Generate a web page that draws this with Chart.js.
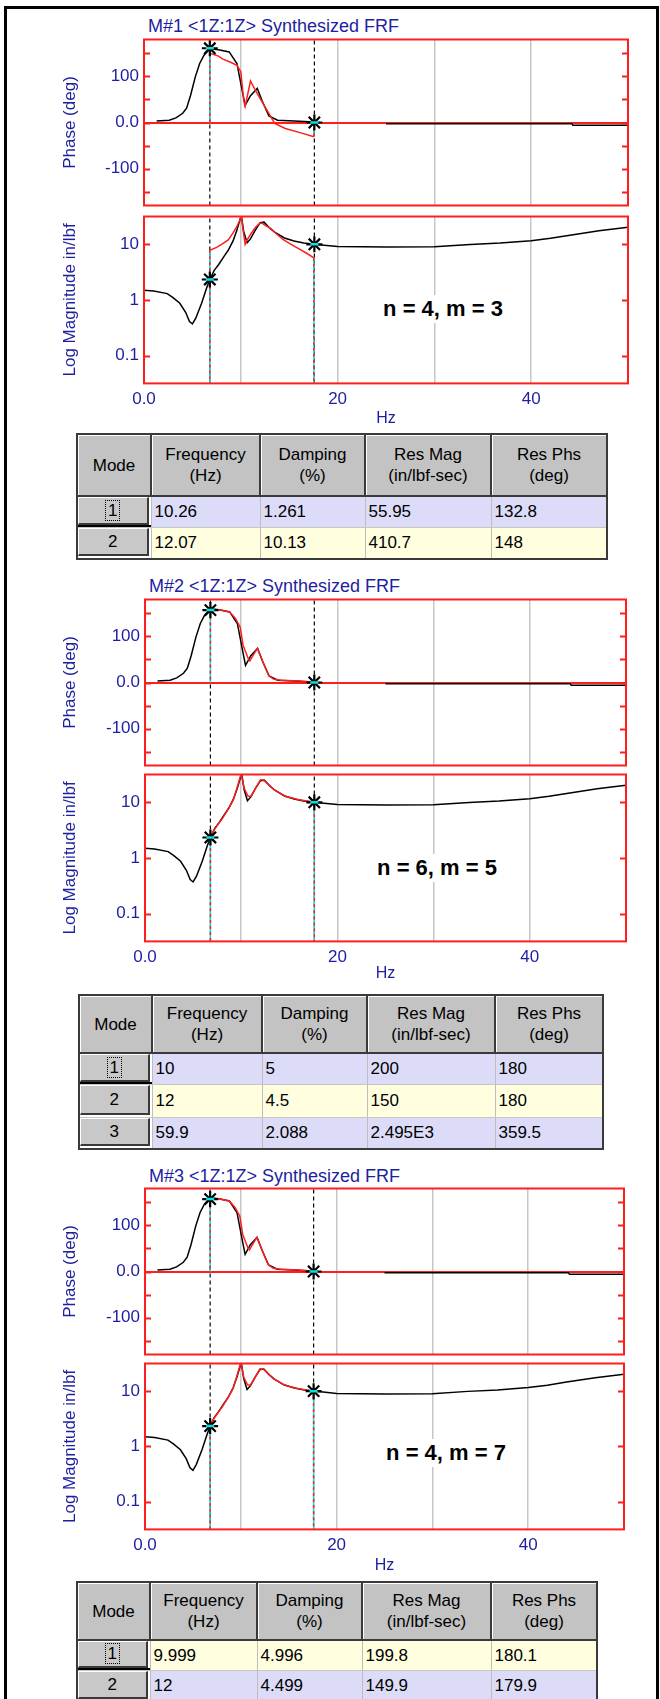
<!DOCTYPE html>
<html>
<head>
<meta charset="utf-8">
<script src="https://cdn.jsdelivr.net/npm/chart.js@4.4.1/dist/chart.umd.min.js"></script>
<style>
body{margin:0;width:660px;height:1699px;position:relative;overflow:hidden;background:#fff;font-family:"Liberation Sans",Arial,sans-serif;}
#frame{position:absolute;left:4px;top:6px;width:649px;height:1760px;border:3px solid #000;}
canvas{position:absolute;left:0;}
.title{position:absolute;color:#1e1ea0;font-size:18px;line-height:20px;white-space:nowrap;}
.note{position:absolute;background:#fff;color:#000;font-weight:bold;font-size:22px;line-height:28px;padding:0 5px;white-space:nowrap;transform:translateX(-50%);}
table.modes{position:absolute;border-collapse:collapse;table-layout:fixed;font-size:17px;color:#000;border:2px solid #3a3a3a;}
table.modes th{background:#c3c3c3;font-weight:normal;line-height:21px;border-right:2px solid #3a3a3a;border-bottom:2px solid #3a3a3a;box-shadow:inset 1px 1px 0 #fff;padding:0;text-align:center;}
table.modes td{padding:0 0 0 3px;border-right:1px solid #bdbdbd;border-bottom:1px solid #c6c6c6;white-space:nowrap;overflow:hidden;}
table.modes td.mode{padding:0 2px 2px 0;background:#fff;}
table.modes td.focused{box-shadow:inset 2px -2px 0 #000;}
.btn{box-sizing:border-box;height:100%;background:#c8c8c8;border-top:1px solid #fff;border-left:1px solid #fff;border-right:2px solid #3a3a3a;border-bottom:2px solid #3a3a3a;text-align:center;}
.btn span.focus{outline:1px dotted #000;padding:0 2px;}
</style>
</head>
<body>
<div id="frame"></div>
<script>
// measured FRF (black), same in all three panels
var freqMeasPhase = [1.3, 2.6, 3.3, 4.0, 4.4, 4.8, 5.3, 5.75, 6.2, 6.8, 7.7, 8.8, 9.6, 10.2, 10.45, 11.0, 11.7, 12.2, 12.9, 13.8, 15.5, 17.6, 21, 25, 44.2, 44.3, 50];
var measPhase = [3, 5, 10, 20, 31, 58, 99, 128, 146, 160, 158, 153, 128, 63, 37, 58, 74, 47, 14, 5, 3, 1, null, -2.5, -2.5, -6, -6];

var freqMeasMag = [0, 1, 2.4, 3.0, 3.7, 4.3, 4.7, 5.0, 5.35, 5.95, 6.45, 6.8, 7.25, 7.7, 8.3, 8.7, 9.2, 9.6, 9.9, 10.05, 10.3, 10.65, 11.0, 11.5, 12.0, 12.4, 13.0, 13.5, 14.5, 15.5, 16.5, 17.6, 18.6, 20, 25, 30, 33.7, 36.8, 40, 42, 44, 47, 50];
var measMag = [1.49, 1.45, 1.3, 1.1, 0.87, 0.6, 0.41, 0.37, 0.47, 0.87, 1.6, 2.33, 3.4, 4.3, 6.2, 7.8, 11.5, 18, 27, 33, 17, 10.7, 12.5, 18, 24.5, 25, 19.5, 16.5, 13, 11.5, 10.6, 10, 9.6, 9.1, 8.9, 9.0, 9.9, 10.5, 11.6, 12.8, 14.6, 17.5, 20.2];

// synthesized FRF (red), n = 4, m = 3
var freqFitPhaseA = [6.8, 7.7, 8.1, 9.0, 9.6, 10.0, 10.3, 10.45, 11.0, 11.4, 12.0, 12.9, 13.5, 14.6, 16.3, 17.55];
var fitPhaseA = [150, 144, 138, 130, 124, 110, 48, 35, 90, 74, 52, 20, -2, -13, -23, -31];
var freqFitMagA = [6.8, 7.5, 8.1, 8.7, 9.2, 9.6, 9.9, 10.05, 10.2, 10.45, 10.6, 11.0, 11.5, 11.95, 12.2, 12.6, 13.0, 13.5, 14.35, 15.2, 16.1, 16.8, 17.55];
var fitMagA = [7.8, 8.8, 10.2, 12, 16, 21, 27, 33, 20, 10, 11.5, 15, 20, 24, 24, 21.5, 19.7, 16.5, 12.2, 10, 8.1, 6.9, 5.7];

// synthesized FRF (red), n = 6, m = 5 and n = 4, m = 7 (they look the same)
var freqFitPhaseB = [6.8, 7.7, 8.8, 9.4, 9.9, 10.2, 10.75, 10.9, 11.5, 11.7, 12.0, 12.5, 12.9, 13.4, 14.2, 16.0, 17.6];
var fitPhaseB = [156, 158, 153, 139, 120, 80, 51, 47, 68, 74, 58, 32, 14, 7, 5, 3.5, 0];
var freqFitMagB = [6.8, 7.3, 8.1, 8.7, 9.2, 9.6, 10.0, 10.3, 10.7, 11.0, 11.5, 12.0, 12.4, 13.4, 14.6, 15.9, 17.6];
var fitMagB = [2.47, 3.4, 5.3, 7.8, 11.2, 19, 33, 18, 13, 12.8, 18, 25.3, 25, 16.8, 12.8, 11.2, 10];

// band cursors and their markers
var cursorHz = [6.8, 17.6];
var markPhaseA = [161, 0];
var markPhaseB = [157, 0];
var markMag = [2.33, 10];

// axes
var phaseMin = -180, phaseMax = 180;
var phaseTicks = [-150, -100, -50, 0, 50, 100, 150];
var phaseTickLabels = ['', '-100', '', '0.0', '', '100', ''];
var magMin = 0.0316, magMax = 31.6;
var magTicks = [0.1, 1, 10];
var magTickLabels = ['0.1', '1', '10'];
var hzTicks = [0, 10, 20, 30, 40, 50];
var hzTickLabels = ['0.0', '', '20', '', '40', ''];

var panelTitles = ['M#1 <1Z:1Z> Synthesized FRF', 'M#2 <1Z:1Z> Synthesized FRF', 'M#3 <1Z:1Z> Synthesized FRF'];
var panelNotes = ['n = 4, m = 3', 'n = 6, m = 5', 'n = 4, m = 7'];

// mode tables
var modeHeaders = [['Mode'], ['Frequency', '(Hz)'], ['Damping', '(%)'], ['Res Mag', '(in/lbf-sec)'], ['Res Phs', '(deg)']];
var modeNo1 = ['1', '2'];
var freq1 = ['10.26', '12.07'];
var damp1 = ['1.261', '10.13'];
var resMag1 = ['55.95', '410.7'];
var resPhs1 = ['132.8', '148'];
var modeNo2 = ['1', '2', '3'];
var freq2 = ['10', '12', '59.9'];
var damp2 = ['5', '4.5', '2.088'];
var resMag2 = ['200', '150', '2.495E3'];
var resPhs2 = ['180', '180', '359.5'];
var modeNo3 = ['1', '2'];
var freq3 = ['9.999', '12'];
var damp3 = ['4.996', '4.499'];
var resMag3 = ['199.8', '149.9'];
var resPhs3 = ['180.1', '179.9'];

var BLUE = '#1e1ea0', RED = '#ff1e1e', CYAN = '#00e4e4', GRID = '#c6c6c6';
var LAV = '#dcdcf8', YEL = '#ffffe0';
var PAD = 12;

Chart.defaults.font.family = '"Liberation Sans", Arial, sans-serif';

var panels = [
  {left: 144, right: 628, titleY: 26, phaseTop: 38, phaseBottom: 207, magTop: 215, magBottom: 383, hzY: 418,
   noteX: 443, noteY: 309, fitPhaseX: freqFitPhaseA, fitPhaseY: fitPhaseA, fitMagX: freqFitMagA, fitMagY: fitMagA, markPhase: markPhaseA,
   table: {left: 76, top: 433, widths: [74, 109, 105, 126, 116], head: 62, rows: [30, 30], colours: [LAV, YEL],
           cols: [modeNo1, freq1, damp1, resMag1, resPhs1]}},
  {left: 145, right: 626, titleY: 586, phaseTop: 598, phaseBottom: 767, magTop: 773, magBottom: 941, hzY: 973,
   noteX: 437, noteY: 868, fitPhaseX: freqFitPhaseB, fitPhaseY: fitPhaseB, fitMagX: freqFitMagB, fitMagY: fitMagB, markPhase: markPhaseB,
   table: {left: 78, top: 994, widths: [73, 110, 105, 128, 108], head: 58, rows: [30, 32, 30], colours: [LAV, YEL, LAV],
           cols: [modeNo2, freq2, damp2, resMag2, resPhs2]}},
  {left: 145, right: 624, titleY: 1176, phaseTop: 1187, phaseBottom: 1356, magTop: 1362, magBottom: 1529, hzY: 1565,
   noteX: 446, noteY: 1453, fitPhaseX: freqFitPhaseB, fitPhaseY: fitPhaseB, fitMagX: freqFitMagB, fitMagY: fitMagB, markPhase: markPhaseB,
   table: {left: 76, top: 1581, widths: [73, 107, 105, 129, 106], head: 58, rows: [29, 30], colours: [YEL, LAV],
           cols: [modeNo3, freq3, damp3, resMag3, resPhs3]}}
];

function xy(xs, ys) {
  return xs.map(function (x, i) { return {x: x, y: ys[i]}; });
}
function vline(x, y0, y1) {
  return [{x: x, y: y0}, {x: x, y: y1}];
}
function line(data, color, width, dash) {
  return {data: data, borderColor: color, borderWidth: width, borderDash: dash || [], pointRadius: 0,
          fill: false, tension: 0, spanGaps: false};
}
function stars(data) {
  return {data: data, showLine: false, pointStyle: 'star', pointRadius: 8, borderColor: '#000',
          borderWidth: 2.2, backgroundColor: '#000'};
}
function centers(data) {
  return {data: data, showLine: false, pointStyle: 'line', pointRadius: 4, borderColor: CYAN, borderWidth: 2.5};
}
// cyan line with red dashes on top, from a curve end to a base value
function bandEdge(x, y0, y1) {
  return [line(vline(x, y0, y1), RED, 1.5, [3, 3]), line(vline(x, y0, y1), CYAN, 1.5)];
}

// red frame and inside ticks on both sides
var framePlugin = {
  id: 'frame',
  afterDatasetsDraw: function (chart) {
    var a = chart.chartArea, ctx = chart.ctx, ys = chart.scales.y;
    ctx.save();
    ctx.strokeStyle = RED;
    ctx.lineWidth = 2;
    ys.ticks.forEach(function (t) {
      var py = Math.round(ys.getPixelForValue(t.value)) + 0.5;
      ctx.beginPath();
      ctx.moveTo(a.left, py); ctx.lineTo(a.left + 6, py);
      ctx.moveTo(a.right - 6, py); ctx.lineTo(a.right, py);
      ctx.stroke();
    });
    ctx.strokeRect(a.left, a.top, a.right - a.left, a.bottom - a.top);
    ctx.restore();
  }
};

function hzScale(p, showLabels) {
  return {
    type: 'linear', min: 0, max: 50,
    afterBuildTicks: function (s) { s.ticks = hzTicks.map(function (v) { return {value: v}; }); },
    grid: {drawTicks: false, lineWidth: 1.5,
           color: function (c) { var v = c.tick.value; return (v > 0 && v < 50) ? GRID : 'transparent'; }},
    border: {display: false},
    ticks: {display: showLabels, color: BLUE, font: {size: 17}, padding: 6, maxRotation: 0, autoSkip: false,
            callback: function (v) { var i = hzTicks.indexOf(v); return i < 0 ? '' : hzTickLabels[i]; }},
    title: {display: showLabels, text: 'Hz', color: BLUE, font: {size: 16}, padding: {top: 0, bottom: 0}},
    afterFit: function (s) { s.height = showLabels ? (p.hzY + 9.6 - p.magBottom) : 0; }
  };
}

function makeCanvas(top, height) {
  var c = document.createElement('canvas');
  c.width = 660;
  c.height = height;
  c.style.top = top + 'px';
  document.body.appendChild(c);
  return c;
}

function drawPhase(p) {
  var fx = p.fitPhaseX, fy = p.fitPhaseY, n = fx.length - 1;
  var datasets = [
    centers(xy(cursorHz, p.markPhase)),
    stars(xy(cursorHz, p.markPhase)),
    line(xy(fx, fy), RED, 1.5)
  ];
  datasets = datasets.concat(bandEdge(fx[0], fy[0], 0), bandEdge(fx[n], fy[n], 0));
  datasets.push(line(xy(freqMeasPhase, measPhase), '#000', 1.5));
  cursorHz.forEach(function (c) { datasets.push(line(vline(c, phaseMin, phaseMax), '#000', 1.2, [4, 3])); });

  var top = p.phaseTop - PAD;
  new Chart(makeCanvas(top, p.phaseBottom - p.phaseTop + 2 * PAD), {
    type: 'line',
    data: {datasets: datasets},
    options: {
      responsive: false, animation: false, events: [],
      layout: {padding: {left: 0, right: 660 - p.right, top: PAD, bottom: PAD}},
      plugins: {legend: {display: false}, tooltip: {enabled: false}},
      scales: {
        x: hzScale(p, false),
        y: {
          min: phaseMin, max: phaseMax,
          afterBuildTicks: function (s) { s.ticks = phaseTicks.map(function (v) { return {value: v}; }); },
          grid: {drawTicks: false, lineWidth: 2,
                 color: function (c) { return c.tick.value === 0 ? RED : 'transparent'; }},
          border: {display: false},
          ticks: {color: BLUE, font: {size: 17, lineHeight: 1}, padding: 5,
                  callback: function (v) { var i = phaseTicks.indexOf(v); return i < 0 ? '' : phaseTickLabels[i]; }},
          title: {display: true, text: 'Phase (deg)', color: BLUE, font: {size: 17}, padding: {top: 60, bottom: 0}},
          afterFit: function (s) { s.width = p.left; }
        }
      }
    },
    plugins: [framePlugin]
  });
}

function drawMag(p) {
  var fx = p.fitMagX, fy = p.fitMagY, n = fx.length - 1;
  var datasets = [
    centers(xy(cursorHz, markMag)),
    stars(xy(cursorHz, markMag)),
    line(xy(fx, fy), RED, 1.5)
  ];
  datasets = datasets.concat(bandEdge(fx[0], fy[0], magMin), bandEdge(fx[n], fy[n], magMin));
  datasets.push(line(xy(freqMeasMag, measMag), '#000', 1.5));
  cursorHz.forEach(function (c) { datasets.push(line(vline(c, magMin, magMax), '#000', 1.2, [4, 3])); });

  var top = p.magTop - PAD;
  var axisH = p.hzY + 9.6 - p.magBottom;
  new Chart(makeCanvas(top, Math.round(p.magBottom - top + axisH + 4)), {
    type: 'line',
    data: {datasets: datasets},
    options: {
      responsive: false, animation: false, events: [],
      layout: {padding: {left: 0, right: 660 - p.right, top: PAD, bottom: 4}},
      plugins: {legend: {display: false}, tooltip: {enabled: false}},
      scales: {
        x: hzScale(p, true),
        y: {
          type: 'logarithmic', min: magMin, max: magMax,
          afterBuildTicks: function (s) { s.ticks = magTicks.map(function (v) { return {value: v}; }); },
          grid: {drawTicks: false, color: 'transparent'},
          border: {display: false},
          ticks: {color: BLUE, font: {size: 17, lineHeight: 1}, padding: 5,
                  callback: function (v) { var i = magTicks.indexOf(v); return i < 0 ? '' : magTickLabels[i]; }},
          title: {display: true, text: 'Log Magnitude in/lbf', color: BLUE, font: {size: 17}, padding: {top: 60, bottom: 0}},
          afterFit: function (s) { s.width = p.left; }
        }
      }
    },
    plugins: [framePlugin]
  });
}

function drawTable(t) {
  var tbl = document.createElement('table');
  tbl.className = 'modes';
  tbl.style.left = t.left + 'px';
  tbl.style.top = t.top + 'px';
  var html = '<colgroup>';
  t.widths.forEach(function (w) { html += '<col style="width:' + w + 'px">'; });
  html += '</colgroup><tr style="height:' + t.head + 'px">';
  modeHeaders.forEach(function (h) { html += '<th>' + h.join('<br>') + '</th>'; });
  html += '</tr>';
  t.cols[0].forEach(function (m, r) {
    html += '<tr style="height:' + t.rows[r] + 'px">';
    var label = r === 0 ? '<span class="focus">' + m + '</span>' : m;
    html += '<td class="mode' + (r === 0 ? ' focused' : '') + '"><div class="btn" style="line-height:' + (t.rows[r] - 5) + 'px">' + label + '</div></td>';
    for (var c = 1; c < t.cols.length; c++) {
      html += '<td style="background:' + t.colours[r] + '">' + t.cols[c][r] + '</td>';
    }
    html += '</tr>';
  });
  tbl.innerHTML = html;
  document.body.appendChild(tbl);
}

panels.forEach(function (p, i) {
  var title = document.createElement('div');
  title.className = 'title';
  title.style.left = (p.left + 4) + 'px';
  title.style.top = (p.titleY - 10) + 'px';
  title.textContent = panelTitles[i];
  document.body.appendChild(title);

  drawPhase(p);
  drawMag(p);

  var note = document.createElement('div');
  note.className = 'note';
  note.style.left = p.noteX + 'px';
  note.style.top = (p.noteY - 14) + 'px';
  note.textContent = panelNotes[i];
  document.body.appendChild(note);

  drawTable(p.table);
});
</script>
</body>
</html>
